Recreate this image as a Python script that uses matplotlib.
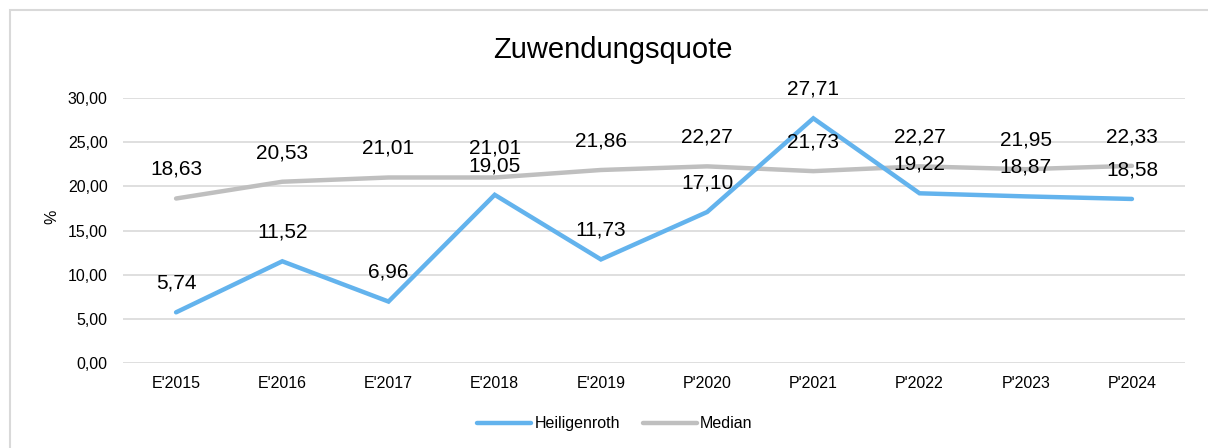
import matplotlib
matplotlib.use("Agg")
import matplotlib.pyplot as plt
from matplotlib.patches import Rectangle

plt.rcParams['font.family'] = ['Liberation Sans', 'DejaVu Sans']

years = ["E'2015", "E'2016", "E'2017", "E'2018", "E'2019",
         "P'2020", "P'2021", "P'2022", "P'2023", "P'2024"]
heiligenroth = [5.74, 11.52, 6.96, 19.05, 11.73, 17.10, 27.71, 19.22, 18.87, 18.58]
median = [18.63, 20.53, 21.01, 21.01, 21.86, 22.27, 21.73, 22.27, 21.95, 22.33]
yticks = [0, 5, 10, 15, 20, 25, 30]

blue = "#63B3ED"
gray = "#BFBFBF"
grid = "#D9D9D9"


def fmt(v):
    return ("%.2f" % v).replace(".", ",")


fig = plt.figure(figsize=(12.08, 4.48), dpi=100)
ax = fig.add_axes([0.1018, 0.1897, 0.8792, 0.5913])

x = list(range(len(years)))
ax.plot(x, heiligenroth, color=blue, lw=3.2, solid_capstyle='round',
        solid_joinstyle='miter', label="Heiligenroth", zorder=3)
ax.plot(x, median, color=gray, lw=3.2, solid_capstyle='round',
        solid_joinstyle='miter', label="Median", zorder=2)

for xi, v in zip(x, heiligenroth):
    ax.annotate(fmt(v), (xi, v), xytext=(0, 21), textcoords='offset points',
                ha='center', va='center', fontsize=15, color='black',
                annotation_clip=False, zorder=5)
for xi, v in zip(x, median):
    ax.annotate(fmt(v), (xi, v), xytext=(0, 21), textcoords='offset points',
                ha='center', va='center', fontsize=15, color='black',
                annotation_clip=False, zorder=5)

ax.set_xlim(-0.5, len(years) - 0.5)
ax.set_ylim(0, 30)
ax.set_yticks(yticks)
ax.set_yticklabels([fmt(t) for t in yticks], fontsize=11.5)
ax.set_xticks(x)
ax.set_xticklabels(years, fontsize=11.5)
ax.tick_params(axis='both', length=0)
ax.tick_params(axis='y', pad=11)
ax.tick_params(axis='x', pad=9)

ax.grid(axis='y', color=grid, lw=1.2)
ax.set_axisbelow(True)
for s in ax.spines.values():
    s.set_visible(False)

fig.text(0.043, 0.515, "%", rotation=90, fontsize=11.5, ha='center', va='center')
fig.text(0.507, 0.888, "Zuwendungsquote", fontsize=21, ha='center', va='center')

ax.legend(loc='center', bbox_to_anchor=(0.509, 0.0536), bbox_transform=fig.transFigure,
          ncol=2, frameon=False, fontsize=11.5, handlelength=3.4, handletextpad=0.2,
          columnspacing=1.4)

# light outer frame
fig.patches.append(Rectangle((10 / 1208, -0.1), 1.2, (438 / 448) + 0.1,
                             transform=fig.transFigure, fill=False,
                             edgecolor='#D9D9D9', lw=1.5))

fig.savefig("out.png", dpi=100)
